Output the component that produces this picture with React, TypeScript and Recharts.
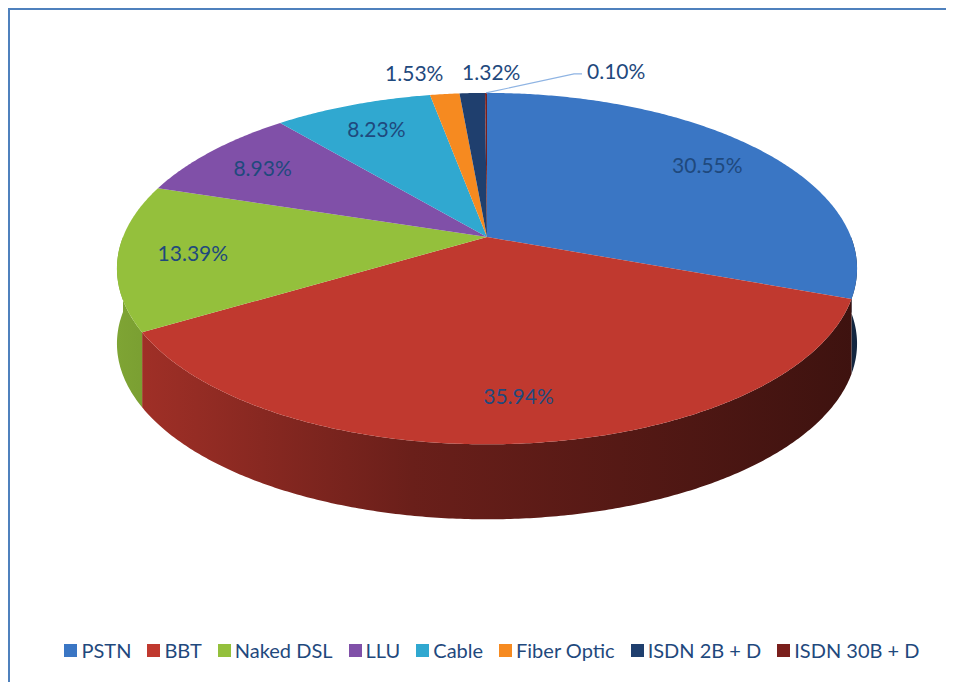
import { PieChart, Pie, Cell, Legend } from "recharts";

const categories = ["PSTN", "BBT", "Naked DSL", "LLU", "Cable", "Fiber Optic", "ISDN 2B + D", "ISDN 30B + D"];
const shares = [30.55, 35.94, 13.39, 8.93, 8.23, 1.53, 1.32, 0.1];
const colors = ["#3a76c4", "#c0392f", "#94c03c", "#8050a8", "#30a8d0", "#f68a20", "#1f3f6e", "#7a1f1c"];

const W = 944;
const H = 672;
const CX = 477;
const CY = 227;
// fake 3D: perspective-projected disc plus a wall below the front half
const RX = 364;
const RY = 170;
const PERSP = 0.18;
const DEPTH = 75;
const FONT = "Lato, 'Open Sans', sans-serif";
const TEXT = "#1f497d";

const total = shares.reduce((a, b) => a + b, 0);
const data = categories.map((name, i) => ({ name, value: shares[i] }));

const RAD = Math.PI / 180;

function project(cx: number, cy: number, r: number, deg: number) {
  const u = Math.cos(deg * RAD);
  const v = Math.sin(deg * RAD);
  const k = 1 + PERSP * r * v;
  return [cx + (RX * r * u) / k, cy - (RY * r * v) / k];
}

function arcPoints(cx: number, cy: number, a1: number, a2: number, dy = 0) {
  const n = Math.max(2, Math.ceil(Math.abs(a2 - a1) / 0.5) + 1);
  const pts: string[] = [];
  for (let i = 0; i < n; i++) {
    const a = a1 + ((a2 - a1) * i) / (n - 1);
    const [x, y] = project(cx, cy, 1, a);
    pts.push(`${x.toFixed(2)},${(y + dy).toFixed(2)}`);
  }
  return pts;
}

function shade(hex: string, f: number) {
  const n = parseInt(hex.slice(1), 16);
  const c = [(n >> 16) & 255, (n >> 8) & 255, n & 255].map((v) => Math.round(v * f));
  return `rgb(${c.join(",")})`;
}

function TopFace(props: any) {
  const { cx, cy, startAngle, endAngle, fill } = props;
  const pts = arcPoints(cx, cy, startAngle, endAngle);
  return <path d={`M${cx},${cy}L${pts.join("L")}Z`} fill={fill} stroke="none" />;
}

function Wall(props: any) {
  const { cx, cy, startAngle, endAngle, fill } = props;
  const lo = Math.max(Math.min(startAngle, endAngle), -180);
  const hi = Math.min(Math.max(startAngle, endAngle), 0);
  if (hi <= lo) return <g />;
  const top = arcPoints(cx, cy, lo, hi);
  const bottom = arcPoints(cx, cy, hi, lo, DEPTH);
  return <path d={`M${top.join("L")}L${bottom.join("L")}Z`} fill={fill} stroke="none" />;
}

function renderLabel(props: any) {
  const { cx, cy, midAngle, index } = props;
  const share = shares[index] / total;
  const text = `${shares[index].toFixed(2)}%`;
  const style = { fontFamily: FONT, fontSize: 21, fill: TEXT };
  if (share >= 0.05) {
    const [x, y] = project(cx, cy, 0.8, midAngle);
    return (
      <text x={x} y={y} textAnchor="middle" dominantBaseline="central" style={style}>
        {text}
      </text>
    );
  }
  if (share < 0.005) {
    const [x0, y0] = project(cx, cy, 1, midAngle);
    const x1 = x0 + 88;
    const y1 = y0 - 19;
    return (
      <g>
        <polyline points={`${x0},${y0} ${x1},${y1} ${x1 + 8},${y1}`} fill="none" stroke="#8fb4e3" strokeWidth={1.2} />
        <text x={x1 + 13} y={y1 - 3} textAnchor="start" dominantBaseline="central" style={style}>
          {text}
        </text>
      </g>
    );
  }
  const [x, y] = project(cx, cy, 1.18, midAngle);
  const left = Math.cos(midAngle * RAD) < -0.1;
  return (
    <text x={left ? x + 5 : x - 8} y={y} textAnchor={left ? "end" : "start"} dominantBaseline="central" style={style}>
      {text}
    </text>
  );
}

function LegendRow() {
  return (
    <div style={{ display: "flex", justifyContent: "center", gap: 16, fontFamily: FONT, fontSize: 20, color: TEXT, paddingLeft: 20 }}>
      {categories.map((name, i) => (
        <div key={name} style={{ display: "flex", alignItems: "center", gap: 4 }}>
          <span style={{ display: "inline-block", width: 13, height: 13, background: colors[i] }} />
          <span>{name}</span>
        </div>
      ))}
    </div>
  );
}

export default function App() {
  return (
    <div
      style={{
        width: W + 4,
        height: H + 4,
        borderTop: "2px solid #4f81bd",
        borderLeft: "2px solid #4f81bd",
        fontFamily: FONT,
        background: "#fff",
      }}
    >
      <PieChart width={W} height={H} margin={{ top: 0, right: 0, bottom: 0, left: 0 }}>
        <defs>
          {colors.map((c, i) => (
            <linearGradient key={i} id={`wall${i}`} gradientUnits="userSpaceOnUse" x1={CX - RX - 10} y1={0} x2={CX + RX + 10} y2={0}>
              <stop offset="0" stopColor={shade(c, 0.86)} />
              <stop offset="0.4" stopColor={shade(c, 0.55)} />
              <stop offset="1" stopColor={shade(c, 0.32)} />
            </linearGradient>
          ))}
        </defs>
        <Pie
          data={data}
          dataKey="value"
          nameKey="name"
          cx={CX}
          cy={CY}
          outerRadius={RY}
          startAngle={90}
          endAngle={-270}
          stroke="none"
          legendType="none"
          shape={Wall}
          activeShape={Wall}
          inactiveShape={Wall}
          isAnimationActive={false}
        >
          {data.map((d, i) => (
            <Cell key={d.name} fill={`url(#wall${i})`} />
          ))}
        </Pie>
        <Pie
          data={data}
          dataKey="value"
          nameKey="name"
          cx={CX}
          cy={CY}
          outerRadius={RY}
          startAngle={90}
          endAngle={-270}
          stroke="none"
          legendType="square"
          shape={TopFace}
          activeShape={TopFace}
          inactiveShape={TopFace}
          label={renderLabel}
          labelLine={false}
          isAnimationActive={false}
        >
          {data.map((d, i) => (
            <Cell key={d.name} fill={colors[i]} />
          ))}
        </Pie>
        <Legend
          verticalAlign="bottom"
          content={() => <LegendRow />}
          wrapperStyle={{ top: 628, left: 0, width: W, bottom: "auto" }}
        />
      </PieChart>
    </div>
  );
}
